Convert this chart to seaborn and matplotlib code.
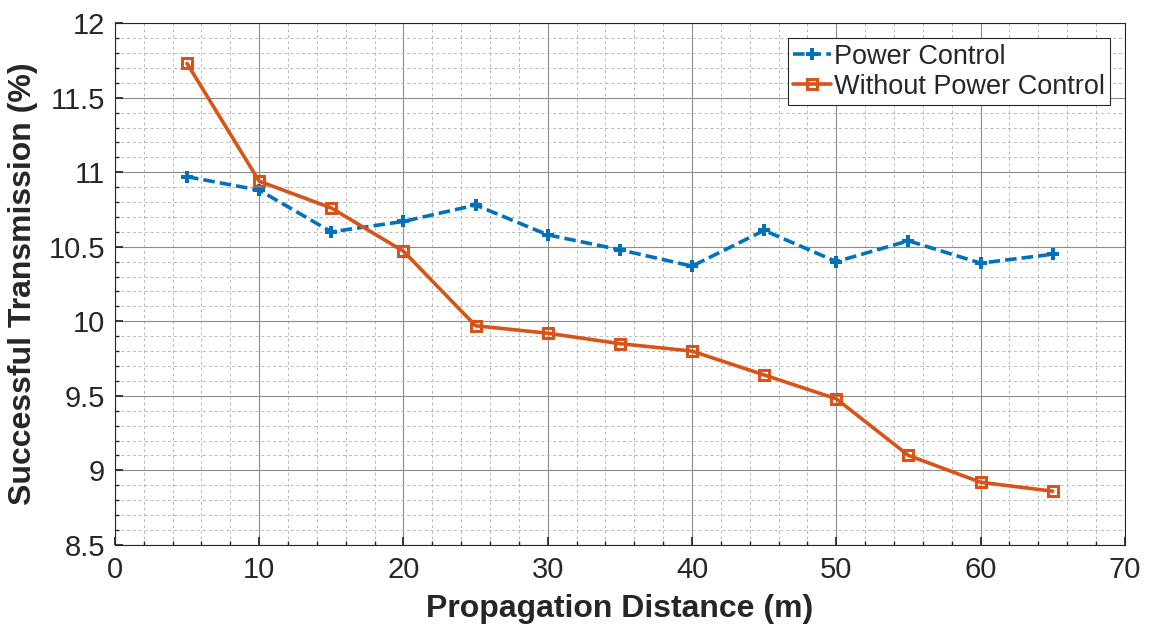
import matplotlib
matplotlib.use("Agg")
import matplotlib.pyplot as plt
import seaborn as sns
import pandas as pd
from matplotlib.ticker import MultipleLocator, FormatStrFormatter

distance = [5, 10, 15, 20, 25, 30, 35, 40, 45, 50, 55, 60, 65]
power_control = [10.97, 10.88, 10.60, 10.67, 10.78, 10.58, 10.48, 10.37, 10.61, 10.40, 10.54, 10.39, 10.45]
without_power_control = [11.73, 10.94, 10.76, 10.47, 9.97, 9.92, 9.85, 9.80, 9.64, 9.48, 9.10, 8.92, 8.86]
series_names = ["Power Control", "Without Power Control"]

sns.set_theme(style="white")
plt.rcParams['font.family'] = ['Liberation Sans', 'DejaVu Sans']

fig = plt.figure(figsize=(11.49, 6.27), dpi=100)
ax = fig.add_axes([0.100, 0.131, 0.879, 0.832])

df1 = pd.DataFrame({"x": distance, "y": power_control})
df2 = pd.DataFrame({"x": distance, "y": without_power_control})

sns.lineplot(data=df1, x="x", y="y", ax=ax, color="#0072BD", linewidth=2.6,
             linestyle=(0, (3.2, 1.4)), marker="P", markersize=8, markeredgewidth=0,
             label=series_names[0])
sns.lineplot(data=df2, x="x", y="y", ax=ax, color="#D95319", linewidth=2.6,
             marker="s", markersize=6.5, markerfacecolor="none", markeredgewidth=2.2,
             markeredgecolor="#D95319", label=series_names[1])

ax.set_xlim(0, 70)
ax.set_ylim(8.5, 12)
ax.xaxis.set_major_locator(MultipleLocator(10))
ax.xaxis.set_minor_locator(MultipleLocator(2))
ax.yaxis.set_major_locator(MultipleLocator(0.5))
ax.yaxis.set_minor_locator(MultipleLocator(0.1))
ax.yaxis.set_major_formatter(FormatStrFormatter('%g'))

ax.grid(which="major", color="#8c8c8c", linestyle="-", linewidth=0.8)
ax.grid(which="minor", color="#b8b8b8", linestyle=(0, (3, 3)), linewidth=0.7)
ax.set_axisbelow(True)

for s in ax.spines.values():
    s.set_color("#262626")
    s.set_linewidth(0.8)

ax.tick_params(axis="both", which="major", direction="in", length=6, labelsize=21,
               colors="#262626", left=True, bottom=True)
ax.tick_params(axis="x", which="major", pad=8)
ax.tick_params(axis="y", which="major", pad=7)
ax.tick_params(axis="both", which="minor", direction="in", length=3,
               left=True, bottom=True)

ax.set_xlabel("Propagation Distance (m)", fontsize=23, fontweight="bold", color="#262626", labelpad=7)
ax.set_ylabel("Successful Transmission (%)", fontsize=23, fontweight="bold", color="#262626", labelpad=8)

leg = ax.legend(loc="upper right", fontsize=19.5, frameon=True, fancybox=False,
                edgecolor="#262626", framealpha=1, borderpad=0.2, labelspacing=0.15,
                handlelength=1.4, handletextpad=0.1, borderaxespad=0.55)
leg.get_frame().set_linewidth(0.8)

fig.savefig("out.png", dpi=100)
